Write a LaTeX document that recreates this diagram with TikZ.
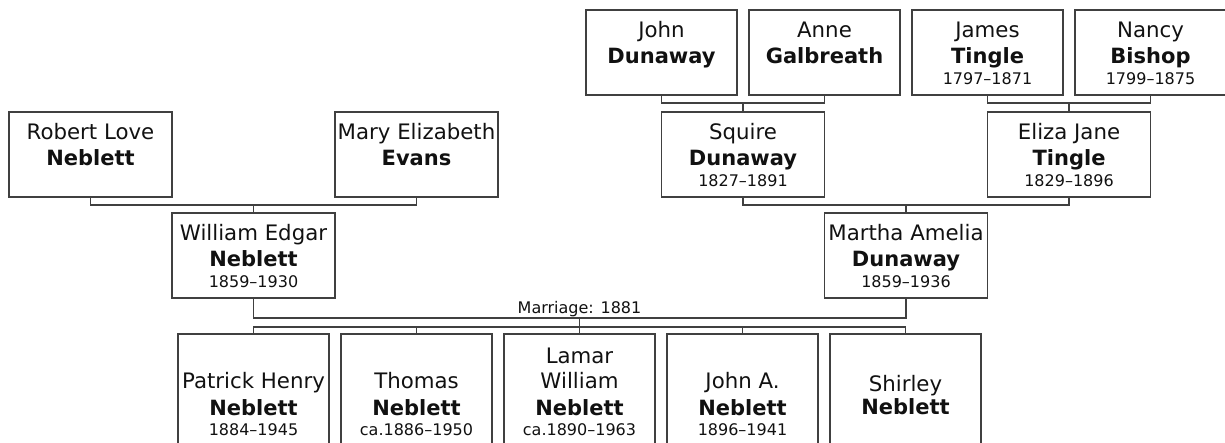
\documentclass[tikz,border=0pt]{standalone}
\usepackage{fontspec}
\setmainfont{DejaVu Sans}
\definecolor{linec}{HTML}{404040}
\definecolor{txtc}{HTML}{111111}
\tikzset{
  card/.style={draw=linec, line width=1.7pt, inner sep=0pt, outer sep=0pt, anchor=north west, minimum width=163pt, minimum height=85pt},
  narrow/.style={card, minimum width=151pt},
  kid/.style={card, minimum width=151pt, minimum height=130pt},
  conn/.style={draw=linec, line width=1.7pt},
  given/.style={font=\fontsize{21.3}{24}\selectfont, text=txtc, inner sep=0pt, anchor=base},
  sur/.style={font=\fontsize{21}{24}\selectfont\bfseries, text=txtc, inner sep=0pt, anchor=base},
  yrs/.style={font=\fontsize{16}{18}\selectfont, text=txtc, inner sep=0pt, anchor=base},
  mlabel/.style={font=\fontsize{16}{19}\selectfont, text=txtc, inner sep=0pt, anchor=base}
}
\newcommand\tline[5]{\node[#1] (#2) at ([yshift=-#4pt]#3.north) {#5};}
\begin{document}
\begin{tikzpicture}[x=1pt,y=-1pt]
\useasboundingbox (0,0) rectangle (1225,443);
\clip (0,0) rectangle (1225,443);

% Neblett grandparents
\node[card] (robert) at (9,112) {};
\tline{given}{robert-g}{robert}{28}{Robert Love}
\tline{sur}{robert-s}{robert}{54}{Neblett}
\node[card] (mary) at (335,112) {};
\tline{given}{mary-g}{mary}{28}{Mary Elizabeth}
\tline{sur}{mary-s}{mary}{54}{Evans}
\node[card] (william) at (172,213) {};
\tline{given}{william-g}{william}{28}{William Edgar}
\tline{sur}{william-s}{william}{54}{Neblett}
\tline{yrs}{william-d}{william}{75}{1859–1930}

% Dunaway / Tingle great-grandparents
\node[narrow] (john) at (586,10) {};
\tline{given}{john-g}{john}{28}{John}
\tline{sur}{john-s}{john}{54}{Dunaway}
\node[narrow] (anne) at (749,10) {};
\tline{given}{anne-g}{anne}{28}{Anne}
\tline{sur}{anne-s}{anne}{54}{Galbreath}
\node[narrow] (james) at (912,10) {};
\tline{given}{james-g}{james}{28}{James}
\tline{sur}{james-s}{james}{54}{Tingle}
\tline{yrs}{james-d}{james}{75}{1797–1871}
\node[narrow] (nancy) at (1075,10) {};
\tline{given}{nancy-g}{nancy}{28}{Nancy}
\tline{sur}{nancy-s}{nancy}{54}{Bishop}
\tline{yrs}{nancy-d}{nancy}{75}{1799–1875}

\node[card] (squire) at (661.5,112) {};
\tline{given}{squire-g}{squire}{28}{Squire}
\tline{sur}{squire-s}{squire}{54}{Dunaway}
\tline{yrs}{squire-d}{squire}{75}{1827–1891}
\node[card] (eliza) at (987.5,112) {};
\tline{given}{eliza-g}{eliza}{28}{Eliza Jane}
\tline{sur}{eliza-s}{eliza}{54}{Tingle}
\tline{yrs}{eliza-d}{eliza}{75}{1829–1896}
\node[card] (martha) at (824.5,213) {};
\tline{given}{martha-g}{martha}{28}{Martha Amelia}
\tline{sur}{martha-s}{martha}{54}{Dunaway}
\tline{yrs}{martha-d}{martha}{75}{1859–1936}

% children
\node[kid] (patrick) at (178,334) {};
\tline{given}{patrick-g}{patrick}{54}{Patrick Henry}
\tline{sur}{patrick-s}{patrick}{81}{Neblett}
\tline{yrs}{patrick-d}{patrick}{101}{1884–1945}
\node[kid] (thomas) at (341,334) {};
\tline{given}{thomas-g}{thomas}{54}{Thomas}
\tline{sur}{thomas-s}{thomas}{81}{Neblett}
\tline{yrs}{thomas-d}{thomas}{101}{ca.1886–1950}
\node[kid] (lamar) at (504,334) {};
\tline{given}{lamar-g}{lamar}{29}{Lamar}
\tline{given}{lamar-h}{lamar}{54}{William}
\tline{sur}{lamar-s}{lamar}{81}{Neblett}
\tline{yrs}{lamar-d}{lamar}{101}{ca.1890–1963}
\node[kid] (johna) at (667,334) {};
\tline{given}{johna-g}{johna}{54}{John A.}
\tline{sur}{johna-s}{johna}{81}{Neblett}
\tline{yrs}{johna-d}{johna}{101}{1896–1941}
\node[kid] (shirley) at (830,334) {};
\tline{given}{shirley-g}{shirley}{57}{Shirley}
\tline{sur}{shirley-s}{shirley}{80}{Neblett}

% connectors
\draw[conn] (robert.south) -- ++(0,8) -| (mary.south);
\draw[conn] (william.north) -- ++(0,-8);
\draw[conn] (john.south) -- ++(0,8) -| (anne.south);
\draw[conn] (squire.north) -- ++(0,-8);
\draw[conn] (james.south) -- ++(0,8) -| (nancy.south);
\draw[conn] (eliza.north) -- ++(0,-8);
\draw[conn] (squire.south) -- ++(0,8) -| (eliza.south);
\draw[conn] (martha.north) -- ++(0,-8);
\draw[conn] (william.south) -- ++(0,20) -| (martha.south);
\node[mlabel] (marriage) at (579.5,313) {Marriage: 1881};
\draw[conn] (patrick.north) -- ++(0,-7) -| (shirley.north);
\draw[conn] (thomas.north) -- ++(0,-7);
\draw[conn] (lamar.north) -- ++(0,-16);
\draw[conn] (johna.north) -- ++(0,-7);
\end{tikzpicture}
\end{document}
